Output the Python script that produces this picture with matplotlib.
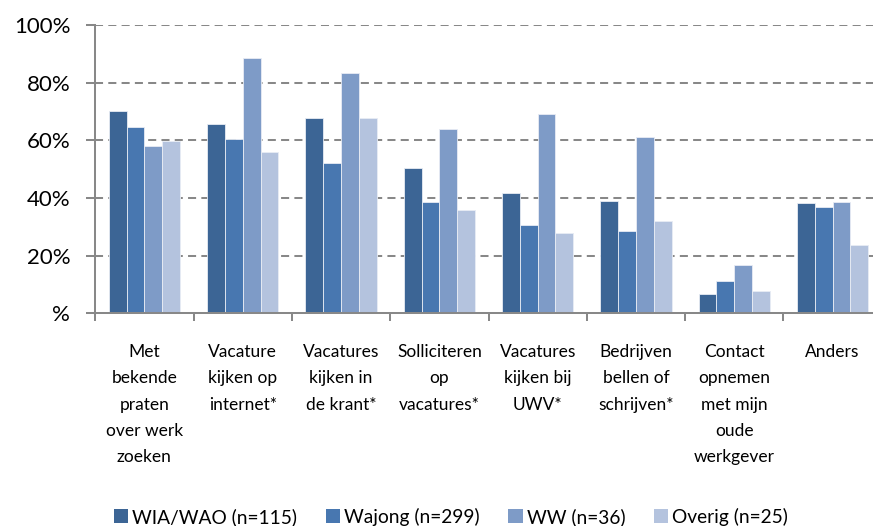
import numpy as np
import matplotlib
matplotlib.use("Agg")
import matplotlib.pyplot as plt
from matplotlib.ticker import FixedLocator, FuncFormatter
from matplotlib.patches import Patch

# Zoekactiviteiten per uitkeringsgroep (percentage)
categories = [
    "Met\nbekende\npraten\nover werk\nzoeken",
    "Vacature\nkijken op\ninternet*",
    "Vacatures\nkijken in\nde krant*",
    "Solliciteren\nop\nvacatures*",
    "Vacatures\nkijken bij\nUWV*",
    "Bedrijven\nbellen of\nschrijven*",
    "Contact\nopnemen\nmet mijn\noude\nwerkgever",
    "Anders",
]
series_names = ["WIA/WAO (n=115)", "Wajong (n=299)", "WW (n=36)", "Overig (n=25)"]
wia_wao = [70.4, 65.9, 67.7, 50.3, 41.7, 39.0, 6.8, 38.2]
wajong = [64.8, 60.4, 52.1, 38.7, 30.6, 28.6, 11.2, 37.0]
ww = [58.2, 88.8, 83.3, 63.9, 69.3, 61.1, 16.6, 38.8]
overig = [59.8, 55.9, 67.9, 35.9, 27.9, 31.9, 7.9, 23.8]
colors = ["#3C6595", "#4877B0", "#7E9BC7", "#B4C3DE"]

FONT = ["Lato", "DejaVu Sans"]

W, H = 873, 526
fig = plt.figure(figsize=(W / 100, H / 100), dpi=100)
left, right, top, bottom = 95.3, 881.7, 25.3, 313.3
ax = fig.add_axes([left / W, 1 - bottom / H, (right - left) / W, (bottom - top) / H])

x = np.arange(len(categories))
bw = 0.181
for i, (vals, c) in enumerate(zip([wia_wao, wajong, ww, overig], colors)):
    ax.bar(x + (i - 1.5) * bw, vals, bw, color=c, edgecolor="#E8ECF4",
           linewidth=0.6, zorder=3)

ax.set_xlim(-0.5, len(categories) - 0.5)
ax.set_ylim(0, 100)

gray = "#888888"
ax.yaxis.set_major_locator(FixedLocator([0, 20, 40, 60, 80, 100]))
ax.yaxis.set_major_formatter(FuncFormatter(lambda v, p: "%" if v == 0 else f"{v:.0f}%"))
for v in [20, 40, 60, 80, 100]:
    ax.axhline(v, color=gray, linewidth=1.45, dashes=(4.0, 2.6), zorder=1)

for s in ["top", "right"]:
    ax.spines[s].set_visible(False)
for s in ["left", "bottom"]:
    ax.spines[s].set_color(gray)
    ax.spines[s].set_linewidth(1.45)
    ax.spines[s].set_zorder(4)

ax.tick_params(axis="y", direction="out", length=6.5, width=1.45, color=gray,
               pad=11.5, labelsize=16, labelcolor="black")
for lab in ax.get_yticklabels():
    lab.set_family(FONT)

# boundaries between categories get the tick marks, centres get the labels
ax.xaxis.set_major_locator(FixedLocator(np.arange(len(categories) + 1) - 0.5))
ax.xaxis.set_major_formatter(FuncFormatter(lambda v, p: ""))
ax.tick_params(axis="x", which="major", direction="out", length=5.5, width=1.45, color=gray)
ax.set_xticks(x, minor=True)
ax.set_xticklabels(categories, minor=True)
ax.tick_params(axis="x", which="minor", length=0, pad=22)
for lab in ax.get_xticklabels(minor=True):
    lab.set_family(FONT)
    lab.set_fontsize(12.5)
    lab.set_linespacing(1.8)
    lab.set_verticalalignment("top")

handles = [Patch(facecolor=c, edgecolor="none") for c in colors]
fig.legend(handles, series_names, loc="center", bbox_to_anchor=(451 / W, 1 - 517 / H),
           ncol=4, frameon=False, handlelength=0.75, handleheight=0.75,
           handletextpad=0.2, columnspacing=1.5,
           prop={"family": FONT, "size": 13.8})

fig.savefig("out.png", dpi=100)
